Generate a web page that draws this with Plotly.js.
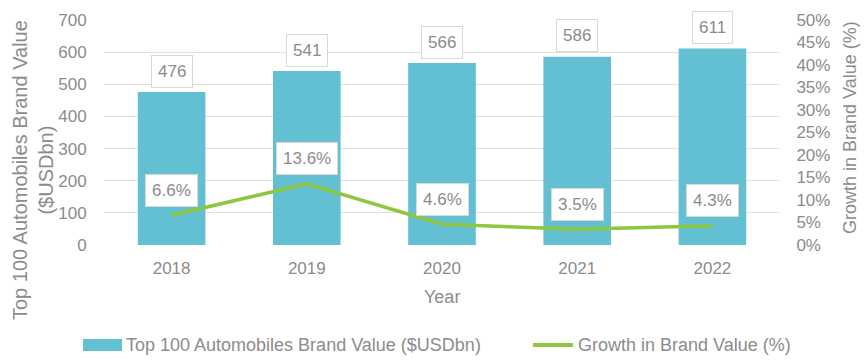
<!DOCTYPE html>
<html><head><meta charset="utf-8">
<script src="https://cdn.plot.ly/plotly-3.0.1.min.js"></script>
<style>body{margin:0;background:#fff}#c{width:868px;height:360px}</style>
</head><body><div id="c"></div>
<script>
const years = ['2018','2019','2020','2021','2022'];
const brandValue = [476, 541, 566, 586, 611];
const growth = [6.6, 13.6, 4.6, 3.5, 4.3];
const barName = 'Top 100 Automobiles Brand Value ($USDbn)';
const lineName = 'Growth in Brand Value (%)';
const leftTitle = 'Top 100 Automobiles Brand Value<br>($USDbn)';
const rightTitle = 'Growth in Brand Value (%)';
const xTitle = 'Year';

const grey = '#8c8c8c';
const F = 'Liberation Sans, Arial, sans-serif';
const barColor = '#62c0d2', lineColor = '#8dc63f';

// plot area in pixels
const L = 104, R = 780, T = 20, B = 245;
const px = v => (v - L) / (R - L);
const py = v => (B - v) / (B - T);

const traces = [
  {type:'bar', x:years, y:brandValue, name:barName, marker:{color:barColor}, yaxis:'y'},
  {type:'scatter', mode:'lines', x:years, y:growth, name:lineName, line:{color:lineColor, width:3.5}, yaxis:'y2'}
];

const ann = [];
years.forEach((yr,i)=>{
  ann.push({x:i, y:brandValue[i], xref:'x', yref:'y', text:String(brandValue[i]), showarrow:false,
    yshift:21, font:{family:F,size:17,color:grey}, bgcolor:'#fff', bordercolor:'#d9d9d9', borderwidth:1, borderpad:6});
  ann.push({x:i, y:growth[i], xref:'x', yref:'y2', text:growth[i].toFixed(1)+'%', showarrow:false,
    yshift:25, font:{family:F,size:17,color:grey}, bgcolor:'#fff', bordercolor:'#d9d9d9', borderwidth:1, borderpad:6});
});
// axis titles
ann.push({xref:'paper', yref:'paper', x:px(33), y:py(170), text:leftTitle, textangle:-90, showarrow:false,
  xanchor:'center', yanchor:'middle', font:{family:F,size:20,color:grey}});
ann.push({xref:'paper', yref:'paper', x:px(850), y:py(128), text:rightTitle, textangle:-90, showarrow:false,
  xanchor:'center', yanchor:'middle', font:{family:F,size:18,color:grey}});
ann.push({xref:'paper', yref:'paper', x:px(442), y:py(297), text:xTitle, showarrow:false,
  xanchor:'center', yanchor:'middle', font:{family:F,size:18,color:grey}});
// legend
ann.push({xref:'paper', yref:'paper', x:px(124), y:py(345), text:barName, showarrow:false,
  xanchor:'left', yanchor:'middle', font:{family:F,size:18,color:grey}});
ann.push({xref:'paper', yref:'paper', x:px(576), y:py(345), text:lineName, showarrow:false,
  xanchor:'left', yanchor:'middle', font:{family:F,size:18,color:grey}});
const shapes = [
  {type:'rect', xref:'paper', yref:'paper', x0:px(83), x1:px(122), y0:py(351), y1:py(339), fillcolor:barColor, line:{width:0}},
  {type:'line', xref:'paper', yref:'paper', x0:px(533), x1:px(573), y0:py(345), y1:py(345), line:{color:lineColor, width:4}}
];

const layout = {
  width:868, height:360,
  margin:{l:L, r:868-R, t:T, b:360-B, autoexpand:false},
  paper_bgcolor:'#fff', plot_bgcolor:'#fff',
  font:{family:F, size:17, color:grey},
  bargap:0.5,
  showlegend:false,
  xaxis:{type:'category', categoryorder:'array', categoryarray:years, range:[-0.5,4.5], autorange:false,
    showgrid:false, showline:false, zeroline:false, ticks:'outside', ticklen:8, tickcolor:'rgba(0,0,0,0)',
    tickfont:{family:F,size:17,color:grey}},
  yaxis:{range:[0,700], dtick:100, showgrid:true, gridcolor:'#e0e0e0', zeroline:false,
    ticks:'outside', ticklen:13, tickcolor:'rgba(0,0,0,0)', tickfont:{family:F,size:17,color:grey}},
  yaxis2:{overlaying:'y', side:'right', range:[0,50], dtick:5, ticksuffix:'%', showgrid:false, zeroline:false,
    ticks:'outside', ticklen:12, tickcolor:'rgba(0,0,0,0)', tickfont:{family:F,size:17,color:grey}},
  annotations:ann,
  shapes:shapes
};
Plotly.newPlot('c', traces, layout, {displayModeBar:false, staticPlot:true});
</script></body></html>
